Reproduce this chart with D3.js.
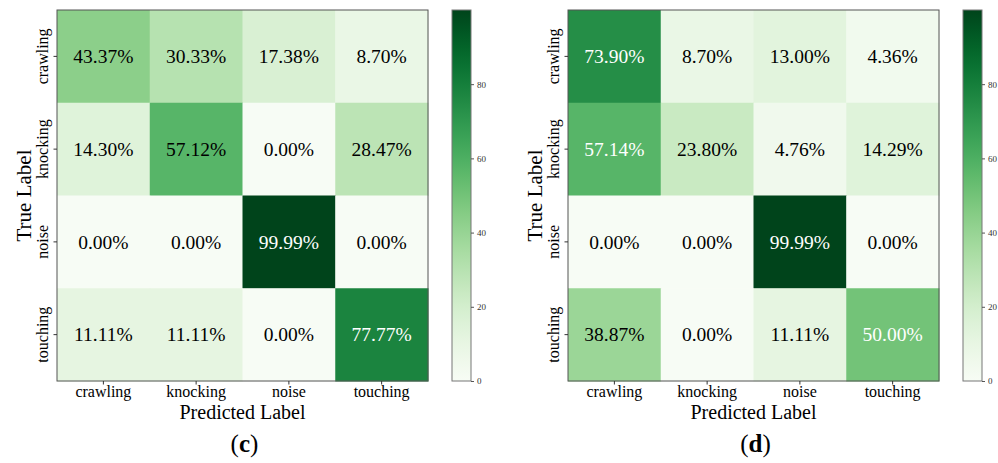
<!DOCTYPE html>
<html>
<head>
<meta charset="utf-8">
<script src="https://cdn.jsdelivr.net/npm/d3@7"></script>
<style>
  body { margin: 0; background: #fff; }
  svg { display: block; }
  svg text { font-family: "Liberation Serif", "Times New Roman", serif; }
</style>
</head>
<body>
<svg id="chart" width="998" height="463"></svg>
<script>
// class names on both axes
var classes = ['crawling', 'knocking', 'noise', 'touching'];

// confusion matrix (c), rows = true label, cols = predicted label (%)
var valuesC = [
  [43.37, 30.33, 17.38, 8.70],
  [14.30, 57.12, 0.00, 28.47],
  [0.00, 0.00, 99.99, 0.00],
  [11.11, 11.11, 0.00, 77.77]
];

// confusion matrix (d)
var valuesD = [
  [73.90, 8.70, 13.00, 4.36],
  [57.14, 23.80, 4.76, 14.29],
  [0.00, 0.00, 99.99, 0.00],
  [38.87, 0.00, 11.11, 50.00]
];

var colorbarTicks = [0, 20, 40, 60, 80];
var panelNames = ['c', 'd'];

var serif = '"Liberation Serif", "Times New Roman", serif';
var svg = d3.select('#chart');

var panels = [
  { values: valuesC, name: panelNames[0], left: 57, cbLeft: 452, whiteAbove: 60 },
  { values: valuesD, name: panelNames[1], left: 568, cbLeft: 963, whiteAbove: 45 }
];

// note: "top" is taken by window.top, so use plotTop
var plotTop = 10, size = 371, cbWidth = 19;

panels.forEach(function(p, pi) {
  var maxVal = d3.max(p.values, function(r) { return d3.max(r); });
  var color = d3.scaleSequential(d3.interpolateGreens).domain([0, maxVal]);

  var x = d3.scaleBand().domain(classes).range([p.left, p.left + size]);
  var y = d3.scaleBand().domain(classes).range([plotTop, plotTop + size]);

  var cells = [];
  p.values.forEach(function(row, i) {
    row.forEach(function(v, j) {
      cells.push({ t: classes[i], pr: classes[j], v: v });
    });
  });

  var g = svg.append('g');

  g.selectAll('rect.cell')
    .data(cells)
    .enter()
    .append('rect')
    .attr('class', 'cell')
    .attr('x', function(d) { return x(d.pr); })
    .attr('y', function(d) { return y(d.t); })
    .attr('width', x.bandwidth() + 0.5)
    .attr('height', y.bandwidth() + 0.5)
    .attr('fill', function(d) { return color(d.v); });

  g.selectAll('text.val')
    .data(cells)
    .enter()
    .append('text')
    .attr('class', 'val')
    .attr('x', function(d) { return x(d.pr) + x.bandwidth() / 2; })
    .attr('y', function(d) { return y(d.t) + y.bandwidth() / 2; })
    .attr('dy', '0.35em')
    .attr('text-anchor', 'middle')
    .attr('font-family', serif)
    .attr('font-size', 19.5)
    .attr('fill', function(d) { return d.v > p.whiteAbove ? '#fff' : '#000'; })
    .text(function(d) { return d.v.toFixed(2) + '%'; });

  // frame
  g.append('rect')
    .attr('x', p.left).attr('y', plotTop)
    .attr('width', size).attr('height', size)
    .attr('fill', 'none').attr('stroke', '#555').attr('stroke-width', 1);

  // x axis
  var xAxis = g.append('g')
    .attr('transform', 'translate(0,' + (plotTop + size) + ')')
    .call(d3.axisBottom(x).tickSize(3.5).tickSizeOuter(0).tickPadding(1.5));
  xAxis.select('.domain').remove();
  xAxis.selectAll('text').attr('font-size', 16).attr('fill', '#000')
    .attr('font-family', serif);
  xAxis.selectAll('line').attr('stroke', '#333');

  // y axis, labels rotated
  var yAxis = g.append('g')
    .attr('transform', 'translate(' + p.left + ',0)')
    .call(d3.axisLeft(y).tickSize(3.5).tickSizeOuter(0));
  yAxis.select('.domain').remove();
  yAxis.selectAll('line').attr('stroke', '#333');
  yAxis.selectAll('text')
    .attr('font-size', 16).attr('fill', '#000')
    .attr('font-family', serif)
    .attr('x', 0).attr('dy', 0)
    .attr('text-anchor', 'middle')
    .attr('transform', 'translate(-9,0) rotate(-90)');

  // axis titles
  g.append('text')
    .attr('x', p.left + size / 2)
    .attr('y', 419)
    .attr('text-anchor', 'middle')
    .attr('font-family', serif)
    .attr('font-size', 20)
    .text('Predicted Label');

  g.append('text')
    .attr('transform', 'translate(' + (p.left - 26) + ',' + (plotTop + size / 2) + ') rotate(-90)')
    .attr('text-anchor', 'middle')
    .attr('font-family', serif)
    .attr('font-size', 21)
    .text('True Label');

  // colorbar
  var gradId = 'grad' + pi;
  var grad = svg.append('defs').append('linearGradient')
    .attr('id', gradId)
    .attr('x1', 0).attr('y1', 1).attr('x2', 0).attr('y2', 0);
  d3.range(0, 1.0001, 0.05).forEach(function(t) {
    grad.append('stop')
      .attr('offset', t)
      .attr('stop-color', color(t * maxVal));
  });

  g.append('rect')
    .attr('x', p.cbLeft).attr('y', plotTop)
    .attr('width', cbWidth).attr('height', size)
    .attr('fill', 'url(#' + gradId + ')')
    .attr('stroke', '#777').attr('stroke-width', 1);

  var cbScale = d3.scaleLinear().domain([0, maxVal]).range([plotTop + size, plotTop]);
  var cbAxis = g.append('g')
    .attr('transform', 'translate(' + (p.cbLeft + cbWidth) + ',0)')
    .call(d3.axisRight(cbScale).tickValues(colorbarTicks).tickSize(3).tickPadding(3));
  cbAxis.select('.domain').remove();
  cbAxis.selectAll('line').attr('stroke', '#555');
  cbAxis.selectAll('text').attr('font-size', 9).attr('fill', '#333')
    .attr('font-family', serif);

  // panel caption
  var cap = g.append('text')
    .attr('x', p.left + size / 2 + 2)
    .attr('y', 452)
    .attr('text-anchor', 'middle')
    .attr('font-family', serif)
    .attr('font-size', 25);
  cap.append('tspan').text('(');
  cap.append('tspan').attr('font-weight', 'bold').text(p.name);
  cap.append('tspan').text(')');
});
</script>
</body>
</html>
